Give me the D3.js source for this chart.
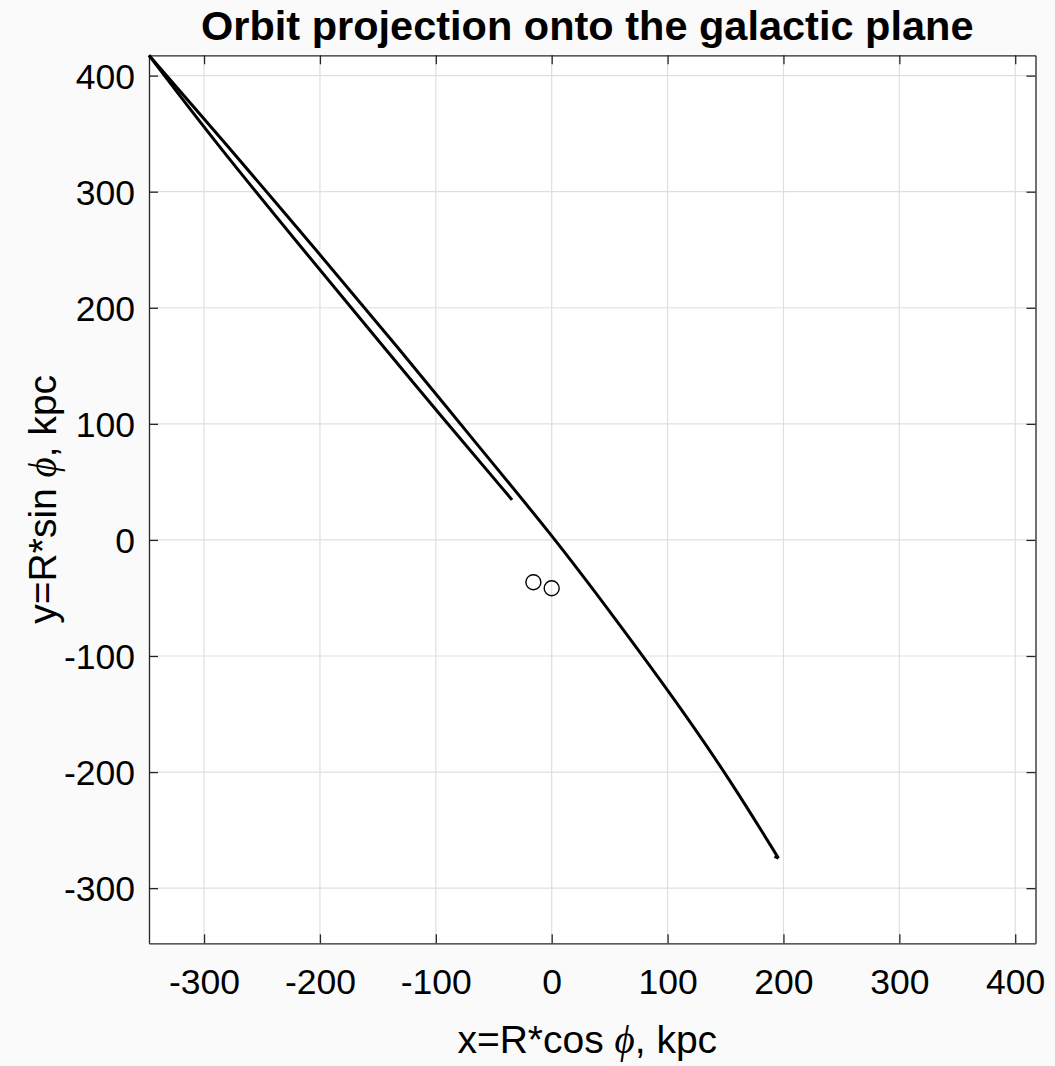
<!DOCTYPE html>
<html>
<head>
<meta charset="utf-8">
<script src="https://cdn.jsdelivr.net/npm/d3@7"></script>
<style>
  html, body { margin: 0; padding: 0; background: #fafafa; }
  svg { display: block; }
  text { font-family: "Liberation Sans", Arial, Helvetica, sans-serif; fill: #000; }
</style>
</head>
<body>
<svg id="chart" width="1055" height="1066"></svg>
<script>
// ---- data ----
const xDomain = [-347.5, 417.5];
const yDomain = [-347.5, 417.5];
const xTicks = [-300, -200, -100, 0, 100, 200, 300, 400];
const yTicks = [-300, -200, -100, 0, 100, 200, 300, 400];
// inner branch: from the orbit's end point up to the apocentre
const innerX = [-34.2, -99.8, -142.9, -214.3, -292.0, -347.5];
const innerY = [34.5, 112.0, 163.7, 249.8, 344.6, 417.5];
// outer branch: from the apocentre down to the far end
const outerX = [-347.5, -283.9, -203.3, -130.8, -67.6, 1.5, 55.6, 106.5, 154.0, 195.7];
const outerY = [417.5, 344.6, 249.8, 163.7, 86.1, 2.8, -68.9, -137.8, -206.7, -274.2];
// small hook at the far end
const hookX = [195.7, 192.3];
const hookY = [-274.2, -272.6];
const markerX = [-15.8, 0.0];
const markerY = [-36.4, -41.6];
const titleText = "Orbit projection onto the galactic plane";

// ---- layout ----
const svg = d3.select("#chart");
const L = 149, R = 1035.5, T = 55.3, B = 943.3;
const x = d3.scaleLinear().domain(xDomain).range([L, R]);
const y = d3.scaleLinear().domain(yDomain).range([B, T]);

svg.append("rect").attr("x", L).attr("y", T).attr("width", R - L).attr("height", B - T).attr("fill", "#ffffff");

// grid
const grid = svg.append("g");
grid.selectAll(".gx").data(xTicks).enter().append("line")
  .attr("x1", d => x(d)).attr("x2", d => x(d)).attr("y1", T).attr("y2", B)
  .attr("stroke", "#dfdfdf").attr("stroke-width", 1.2);
grid.selectAll(".gy").data(yTicks).enter().append("line")
  .attr("y1", d => y(d)).attr("y2", d => y(d)).attr("x1", L).attr("x2", R)
  .attr("stroke", "#dfdfdf").attr("stroke-width", 1.2);

// axes (inward ticks)
const tickLen = 9;
const fmt = d => String(d);
const axB = svg.append("g").attr("transform", `translate(0,${B})`)
  .call(d3.axisBottom(x).tickValues(xTicks).tickSizeInner(-tickLen).tickSizeOuter(0).tickPadding(25).tickFormat(fmt));
const axT = svg.append("g").attr("transform", `translate(0,${T})`)
  .call(d3.axisTop(x).tickValues(xTicks).tickSizeInner(-tickLen).tickSizeOuter(0).tickFormat(""));
const axL = svg.append("g").attr("transform", `translate(${L},0)`)
  .call(d3.axisLeft(y).tickValues(yTicks).tickSizeInner(-tickLen).tickSizeOuter(0).tickPadding(14).tickFormat(fmt));
const axR = svg.append("g").attr("transform", `translate(${R},0)`)
  .call(d3.axisRight(y).tickValues(yTicks).tickSizeInner(-tickLen).tickSizeOuter(0).tickFormat(""));
[axB, axT, axL, axR].forEach(a => {
  a.select(".domain").attr("stroke", "#262626").attr("stroke-width", 1.3);
  a.selectAll(".tick line").attr("stroke", "#262626").attr("stroke-width", 1.3);
  a.selectAll(".tick text").attr("font-size", 35.5).attr("fill", "#000")
    .attr("font-family", '"Liberation Sans", Arial, sans-serif');
});
axB.selectAll(".tick text").attr("dy", "0.71em");
axL.selectAll(".tick text").attr("dy", "0.35em");

// orbit
const line = d3.line().x(d => x(d[0])).y(d => y(d[1])).curve(d3.curveBasis);
const toPts = (xs, ys) => xs.map((v, i) => [v, ys[i]]);
[[innerX, innerY], [outerX, outerY], [hookX, hookY]].forEach(([xs, ys]) => {
  svg.append("path").datum(toPts(xs, ys)).attr("d", line)
    .attr("fill", "none").attr("stroke", "#000").attr("stroke-width", 3)
    .attr("stroke-linejoin", "round");
});

// markers
svg.selectAll(".mk").data(toPts(markerX, markerY)).enter().append("circle")
  .attr("cx", d => x(d[0])).attr("cy", d => y(d[1])).attr("r", 7.5)
  .attr("fill", "none").attr("stroke", "#000").attr("stroke-width", 1.4);

// title
svg.append("text").attr("x", (L + R) / 2 - 5).attr("y", 40).attr("text-anchor", "middle")
  .attr("font-size", 41.5).attr("font-weight", "bold").text(titleText);

// x label
const phiFont = '"Liberation Serif", "DejaVu Serif", serif';
const xl = svg.append("text").attr("x", (L + R) / 2 - 5).attr("y", 1053).attr("text-anchor", "middle").attr("font-size", 39);
xl.append("tspan").text("x=R*cos ");
xl.append("tspan").attr("font-family", phiFont).attr("font-style", "italic").text("\u03D5");
xl.append("tspan").text(", kpc");

// y label
const yl = svg.append("text").attr("transform", `translate(56,${(T + B) / 2}) rotate(-90)`).attr("text-anchor", "middle").attr("font-size", 39);
yl.append("tspan").text("y=R*sin ");
yl.append("tspan").attr("font-family", phiFont).attr("font-style", "italic").text("\u03D5");
yl.append("tspan").text(", kpc");
</script>
</body>
</html>
